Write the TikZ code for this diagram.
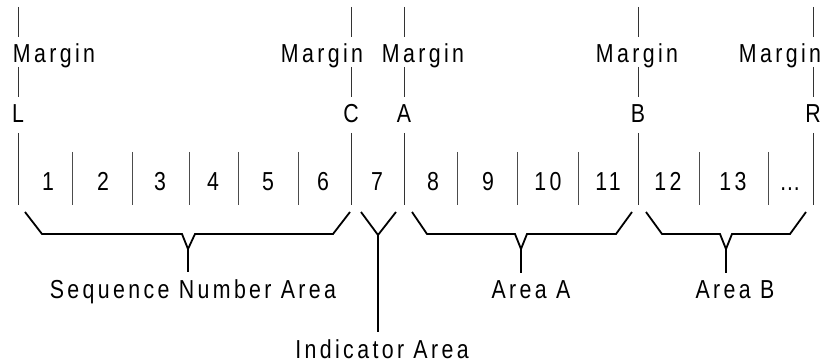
\documentclass[tikz,border=0pt]{standalone}
\usepackage{fontspec}
\usepackage{tikz}
\usetikzlibrary{positioning,calc}
\newfontfamily\labelfont[FakeStretch=0.82,LetterSpace=13]{Liberation Sans}
\tikzset{
lbl/.style   = {font=\labelfont\fontsize{26}{26}\selectfont, inner sep=0pt, anchor=base},
area/.style  = {font=\labelfont\fontsize{26}{26}\selectfont, inner sep=0pt, anchor=base},
mline/.style = {draw=black!80, line width=0.9pt},
sep/.style   = {draw=black!70, line width=0.8pt},
brace/.style = {draw, line width=1.8pt, line join=miter},
stem/.style  = {draw, line width=1.8pt, shorten >=8pt}
}

\begin{document}
\begin{tikzpicture}[x=1pt, y=-1pt]
  \useasboundingbox (0,0) rectangle (822,363);

  % margin lines with their labels
  \foreach \x/\m/\t/\nm in {18/54/L/l, 351/322/C/c, 404/423/A/a, 638/637/B/b, 813/780/R/r}{
    \node [lbl] (marg\nm) at (\m,63) {Margin};
    \node [lbl] (lim\nm)  at (\x,123) {\t};
    \draw [mline] (\x,7) -- (\x,37);
    \draw [mline] (\x,67) -- (\x,97);
    \draw [mline] (\x,133) -- (\x,205);
  }

  % cell separators
  \foreach \x in {72,132,189,238,298,457,517,578,699,768}
    \draw [sep] (\x,152) -- (\x,205);

  % cell numbers
  \foreach \x/\n [count=\i] in {48/1,103/2,160/3,213/4,268/5,323/6,377/7,433/8,488/9,548/10,608/11,668/12,733/13,790/\dots}
    \node [lbl] (cell\i) at (\x,191) {\n};

  % area labels
  \node [area] (seq)  at (193,299) {Sequence Number Area};
  \node [area] (ind)  at (382,359) {Indicator Area};
  \node [area] (areaa) at (531,299) {Area A};
  \node [area] (areab) at (735,299) {Area B};

  \coordinate (seqtip) at (188,249);
  \coordinate (indtip) at (378,235);
  \coordinate (atip)   at (521,249);
  \coordinate (btip)   at (726,249);

  % braces
  \draw [brace] (25,212) -- (42,234) -- (182,234) -- (seqtip) -- (195,234) -- (333,234) -- (350,212);
  \draw [brace] (361,212) -- (indtip) -- (396,212);
  \draw [brace] (412,212) -- (427,234) -- (515,234) -- (atip) -- (527,234) -- (616,234) -- (632,212);
  \draw [brace] (646,212) -- (662,234) -- (720,234) -- (btip) -- (732,234) -- (790,234) -- (806,212);

  % stems down to the area names
  \draw [stem] (seqtip) -- (seqtip |- seq.north);
  \draw [stem] (indtip) -- (indtip |- ind.north);
  \draw [stem] (atip) -- (atip |- areaa.north);
  \draw [stem] (btip) -- (btip |- areab.north);
\end{tikzpicture}
\end{document}
